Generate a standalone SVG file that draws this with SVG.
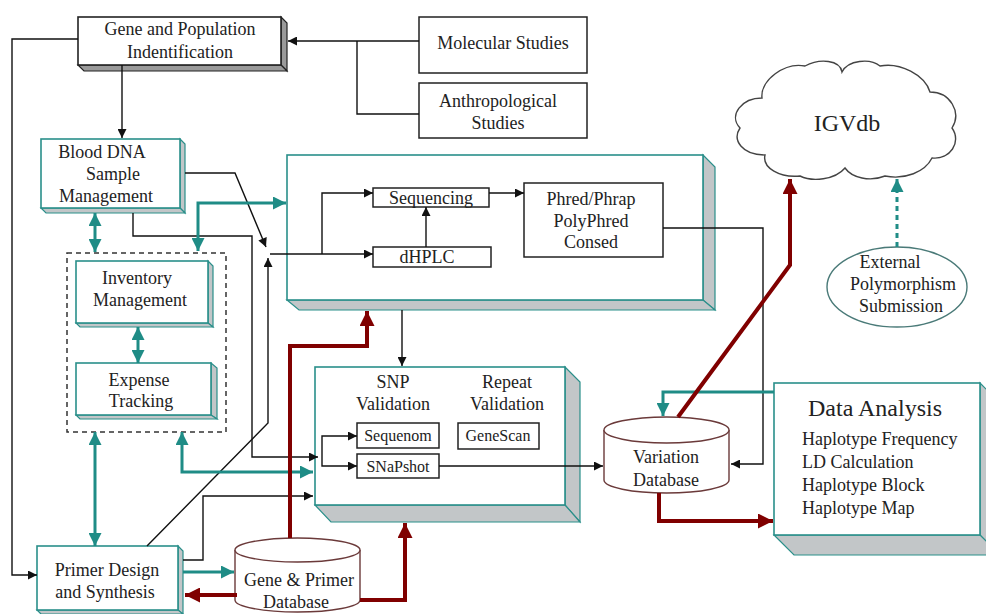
<svg xmlns="http://www.w3.org/2000/svg" width="986" height="614" viewBox="0 0 986 614">
<style>
text{font-family:"Liberation Serif","Times New Roman",serif;font-size:18px;fill:#222;text-anchor:middle}
.sm{font-size:16px}
.big{font-size:24px}
.lt{text-anchor:start}
.front{fill:#fff;stroke:#2a8f8a;stroke-width:1.6}
.side{fill:#c2c6c8;stroke:#2a8f8a;stroke-width:1.2}
.bfront{fill:#fff;stroke:#222;stroke-width:1.6}
.bside{fill:#9a9a9a;stroke:#222;stroke-width:1.2}
.pl{fill:#fff;stroke:#222;stroke-width:1.5}
.cyl{fill:#fff;stroke:#6b3a3a;stroke-width:1.4}
.k{fill:none;stroke:#111;stroke-width:1.4}
.t{fill:none;stroke:#1f8c86;stroke-width:3}
.r{fill:none;stroke:#800000;stroke-width:4}
</style>
<defs>
<marker id="ak" viewBox="0 0 10 10" refX="10" refY="5" markerWidth="11" markerHeight="9" orient="auto-start-reverse" markerUnits="userSpaceOnUse"><path d="M0,0 L10,5 L0,10 Z" fill="#111"/></marker>
<marker id="at" viewBox="0 0 10 10" refX="10" refY="5" markerWidth="14" markerHeight="13" orient="auto-start-reverse" markerUnits="userSpaceOnUse"><path d="M0,0 L10,5 L0,10 Z" fill="#1f8c86"/></marker>
<marker id="ar" viewBox="0 0 10 10" refX="10" refY="5" markerWidth="16" markerHeight="15" orient="auto-start-reverse" markerUnits="userSpaceOnUse"><path d="M0,0 L10,5 L0,10 Z" fill="#800000"/></marker>
</defs>

<g id="gene-pop">
<polygon class="bside" points="281,17 287,23 287,71 281,65"/>
<polygon class="bside" points="78,65 84,71 287,71 281,65"/>
<rect class="bfront" x="78" y="17" width="203" height="48"/>
<text x="180" y="35">Gene and Population</text>
<text x="180" y="58">Indentification</text>
</g>

<g id="molecular">
<rect class="pl" x="419" y="17" width="168" height="56"/>
<text x="503" y="49">Molecular Studies</text>
</g>

<g id="anthro">
<rect class="pl" x="419" y="83" width="168" height="55"/>
<text x="498" y="107">Anthropological</text>
<text x="498" y="129">Studies</text>
</g>

<g id="igvdb">
<path d="M762,98 C760,80 785,62 805,66 C820,58 840,60 842,72 C848,60 870,58 880,66 C900,62 925,75 930,92 C950,92 962,112 952,128 C962,142 950,160 932,158 C925,172 905,180 885,176 C870,182 852,178 845,168 C835,180 812,182 800,176 C780,178 762,168 765,155 C742,155 732,140 740,128 C728,115 742,98 762,98 Z" fill="#fff" stroke="#444" stroke-width="1.4"/>
<text class="big" x="847" y="131">IGVdb</text>
</g>

<g id="external">
<ellipse cx="897" cy="287" rx="70" ry="40" fill="#fff" stroke="#4a7a78" stroke-width="1.4"/>
<text x="890" y="268">External</text>
<text x="903" y="290">Polymorphism</text>
<text x="901" y="312">Submission</text>
</g>

<g id="blood-dna">
<polygon class="side" points="180,139 185,144 185,213 180,208"/>
<polygon class="side" points="41,208 46,213 185,213 180,208"/>
<rect class="front" x="41" y="139" width="139" height="69"/>
<text x="102" y="158">Blood DNA</text>
<text x="113" y="180">Sample</text>
<text x="106" y="202">Management</text>
</g>

<g id="inv-group">
<rect x="67" y="253" width="159" height="179" fill="none" stroke="#333" stroke-width="1.5" stroke-dasharray="5,4"/>
</g>

<g id="inventory">
<polygon class="side" points="208,261 213,266 213,327 208,323"/>
<polygon class="side" points="76,323 80,327 213,327 208,323"/>
<rect class="front" x="76" y="261" width="132" height="62"/>
<text x="137" y="284">Inventory</text>
<text x="140" y="306">Management</text>
</g>

<g id="expense">
<polygon class="side" points="211,363 217,368 217,419 211,415"/>
<polygon class="side" points="76,415 80,419 217,419 211,415"/>
<rect class="front" x="76" y="363" width="135" height="52"/>
<text x="139" y="386">Expense</text>
<text x="141" y="407">Tracking</text>
</g>

<g id="seq-container">
<polygon class="side" points="703,155 715,167 715,310 703,300"/>
<polygon class="side" points="287,300 299,310 715,310 703,300"/>
<rect class="front" x="287" y="155" width="416" height="145"/>
</g>

<g id="sequencing">
<rect class="pl" x="373" y="188" width="116" height="19"/>
<text x="431" y="204">Sequencing</text>
</g>

<g id="dhplc">
<rect class="pl" x="373" y="247" width="118" height="20"/>
<text x="427" y="263">dHPLC</text>
</g>

<g id="phred">
<rect class="pl" x="524" y="183" width="139" height="74"/>
<text x="591" y="205">Phred/Phrap</text>
<text x="591" y="227">PolyPhred</text>
<text x="591" y="248">Consed</text>
</g>

<g id="snp-container">
<polygon class="side" points="565,367 580,382 580,522 565,505"/>
<polygon class="side" points="315,505 331,522 580,522 565,505"/>
<rect class="front" x="315" y="367" width="250" height="138"/>
<text x="393" y="388">SNP</text>
<text x="393" y="410">Validation</text>
<text x="507" y="388">Repeat</text>
<text x="507" y="410">Validation</text>
</g>

<g id="sequenom">
<rect class="pl" x="357" y="423" width="82" height="25"/>
<text class="sm" x="398" y="441">Sequenom</text>
</g>

<g id="snapshot">
<rect class="pl" x="357" y="454" width="82" height="24"/>
<text class="sm" x="398" y="472">SNaPshot</text>
</g>

<g id="genescan">
<rect class="pl" x="458" y="423" width="81" height="26"/>
<text class="sm" x="498" y="441">GeneScan</text>
</g>

<g id="variation-db">
<path class="cyl" d="M604,430 A62.5,13 0 0 1 729,430 L729,480 A62.5,13 0 0 1 604,480 Z"/>
<path class="cyl" fill="none" d="M604,430 A62.5,13 0 0 0 729,430"/>
<text x="666" y="463">Variation</text>
<text x="666" y="486">Database</text>
</g>

<g id="data-analysis">
<polygon class="side" points="980,383 1000,403 1000,555 980,535"/>
<polygon class="side" points="774,535 794,555 1000,555 980,535"/>
<rect class="front" x="774" y="383" width="206" height="152"/>
<text class="big" x="875" y="416">Data Analysis</text>
<text class="lt" x="802" y="445">Haplotype Frequency</text>
<text class="lt" x="802" y="468">LD Calculation</text>
<text class="lt" x="802" y="491">Haplotype Block</text>
<text class="lt" x="802" y="514">Haplotype Map</text>
</g>

<g id="primer">
<polygon class="side" points="178,546 183,551 183,614 178,610"/>
<polygon class="side" points="37,610 41,614 183,614 178,610"/>
<rect class="front" x="37" y="546" width="141" height="64"/>
<text x="107" y="576">Primer Design</text>
<text x="105" y="598">and Synthesis</text>
</g>

<g id="gene-primer-db">
<path class="cyl" d="M235,550 A62.5,12 0 0 1 360,550 L360,600 A62.5,12 0 0 1 235,600 Z"/>
<path class="cyl" fill="none" d="M235,550 A62.5,12 0 0 0 360,550"/>
<text x="299" y="586">Gene &amp; Primer</text>
<text x="296" y="608">Database</text>
</g>

<g id="connectors">
<!-- black -->
<polyline class="k" points="78,39 12,39 12,575 37,575" marker-end="url(#ak)"/>
<line class="k" x1="122" y1="65" x2="122" y2="138" marker-end="url(#ak)"/>
<line class="k" x1="419" y1="41" x2="288" y2="41" marker-end="url(#ak)"/>
<polyline class="k" points="419,114 357,114 357,41"/>
<polyline class="k" points="185,173 235,173 266,247" marker-end="url(#ak)"/>
<polyline class="k" points="133,213 133,236 252,236 252,457 318,457" marker-end="url(#ak)"/>
<polyline class="k" points="147,546 268,423 268,258" marker-end="url(#ak)"/>
<line class="k" x1="270" y1="254" x2="373" y2="254" marker-end="url(#ak)"/>
<polyline class="k" points="322,254 322,193 373,193" marker-end="url(#ak)"/>
<line class="k" x1="426" y1="247" x2="426" y2="207" marker-end="url(#ak)"/>
<line class="k" x1="489" y1="193" x2="524" y2="193" marker-end="url(#ak)"/>
<polyline class="k" points="663,228 763,228 763,464 731,464" marker-end="url(#ak)"/>
<line class="k" x1="402" y1="310" x2="402" y2="366" marker-end="url(#ak)"/>
<polyline class="k" points="357,436 322,436 322,466 357,466" marker-start="url(#ak)" marker-end="url(#ak)"/>
<line class="k" x1="439" y1="466" x2="603" y2="466" marker-end="url(#ak)"/>
<polyline class="k" points="183,560 203,560 203,496 313,496" marker-end="url(#ak)"/>
<!-- teal -->
<line class="t" x1="95" y1="213" x2="95" y2="252" marker-start="url(#at)" marker-end="url(#at)"/>
<polyline class="t" points="198,251 198,203 286,203" marker-start="url(#at)" marker-end="url(#at)"/>
<line class="t" x1="138" y1="327" x2="138" y2="363" stroke-width="2" marker-start="url(#at)" marker-end="url(#at)"/>
<line class="t" x1="95" y1="432" x2="95" y2="546" marker-start="url(#at)" marker-end="url(#at)"/>
<polyline class="t" points="182,432 182,472 313,472" marker-start="url(#at)" marker-end="url(#at)"/>
<line class="t" x1="183" y1="572" x2="234" y2="572" marker-end="url(#at)"/>
<polyline class="t" points="774,392 663,392 663,416" marker-end="url(#at)"/>
<line class="t" x1="897" y1="247" x2="897" y2="179" stroke-width="1.4" stroke-dasharray="5,4" marker-end="url(#at)"/>
<!-- red -->
<polyline class="r" points="290,538 290,346 367,346 367,311" marker-end="url(#ar)"/>
<polyline class="r" points="360,600 405,600 405,523" marker-end="url(#ar)"/>
<line class="r" x1="237" y1="595" x2="185" y2="595" marker-end="url(#ar)"/>
<polyline class="r" points="659,493 659,521 773,521" marker-end="url(#ar)"/>
<polyline class="r" points="678,417 790,265 790,179" marker-end="url(#ar)"/>
</g>
</svg>
